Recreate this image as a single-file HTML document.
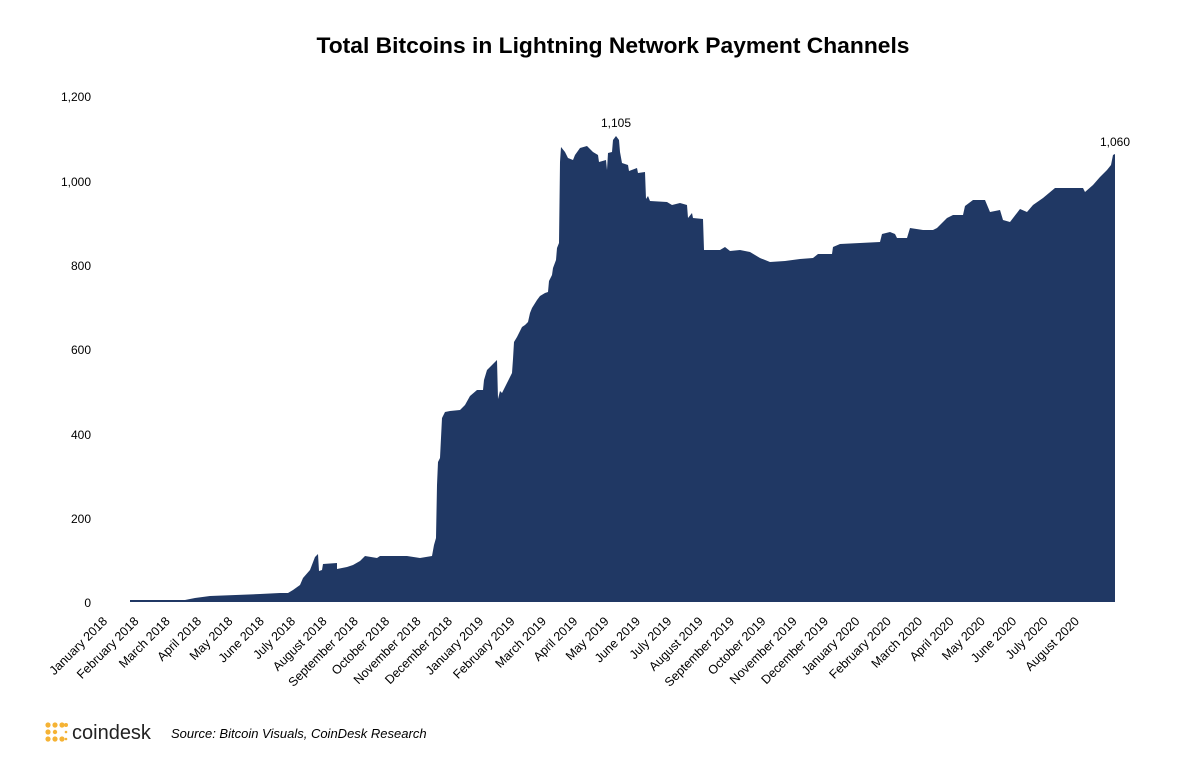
<!DOCTYPE html>
<html><head><meta charset="utf-8"><style>
html,body{margin:0;padding:0;background:#fff;}
body{width:1198px;height:778px;overflow:hidden;}
text{font-family:"Liberation Sans",sans-serif;}
</style></head><body>
<svg width="1198" height="778" viewBox="0 0 1198 778" xmlns="http://www.w3.org/2000/svg">
<text x="613" y="53" text-anchor="middle" font-size="22.5" font-weight="bold" fill="#000" textLength="593" lengthAdjust="spacingAndGlyphs">Total Bitcoins in Lightning Network Payment Channels</text>
<g font-size="12" fill="#000" text-anchor="end">
<text x="91" y="101">1,200</text>
<text x="91" y="186">1,000</text>
<text x="91" y="270">800</text>
<text x="91" y="354">600</text>
<text x="91" y="439">400</text>
<text x="91" y="523">200</text>
<text x="91" y="607">0</text>
</g>
<path fill="#203864" d="M130,602 L130,600 L185,600 L195,598 L210,596 L260,594 L280,593 L288,593 L293,590 L300,585 L303,578 L310,570 L315,557 L318,554 L319,571 L322,570 L323,564 L337,563 L337,569 L347,567 L353,565 L360,561 L365,556 L377,558 L380,556 L407,556 L420,558 L432,556 L434,545 L436,538 L437,485 L438,462 L440,458 L442,418 L445,412 L450,411 L460,410 L465,405 L470,396 L477,390 L483,390 L484,380 L487,370 L493,364 L497,360 L498,399 L500,391 L502,393 L512,373 L513,359 L514,342 L517,337 L522,327 L525,325 L528,322 L530,313 L532,308 L537,300 L540,296 L545,293 L548,292 L549,281 L552,275 L553,268 L556,260 L557,248 L559,243 L560,162 L561,147 L565,152 L568,158 L573,160 L575,155 L580,148 L587,146 L593,152 L598,155 L599,162 L606,160 L607,170 L608,153 L612,152 L613,140 L616,136 L619,140 L620,152 L622,163 L628,165 L629,171 L637,168 L638,173 L645,172 L646,199 L648,196 L650,201 L667,202 L672,205 L680,203 L687,205 L688,218 L692,213 L693,218 L703,219 L704,250 L720,250 L725,247 L730,251 L740,250 L750,252 L760,258 L770,262 L785,261 L800,259 L813,258 L818,254 L832,254 L833,247 L840,244 L880,242 L882,234 L890,232 L895,234 L897,238 L907,238 L910,228 L923,230 L933,230 L937,228 L947,218 L953,215 L963,215 L965,206 L973,200 L985,200 L990,212 L1000,210 L1003,220 L1010,222 L1020,209 L1027,212 L1033,205 L1043,198 L1055,188 L1083,188 L1085,192 L1093,185 L1100,177 L1107,170 L1111,165 L1113,155 L1115,154 L1115,602 Z"/>
<text x="616" y="127" text-anchor="middle" font-size="12" fill="#000">1,105</text>
<text x="1115" y="146" text-anchor="middle" font-size="12" fill="#000">1,060</text>
<g font-size="12.5" fill="#000" text-anchor="end">
<text transform="translate(108,622) rotate(-45)">January 2018</text>
<text transform="translate(139.4,622) rotate(-45)">February 2018</text>
<text transform="translate(170.7,622) rotate(-45)">March 2018</text>
<text transform="translate(202.1,622) rotate(-45)">April 2018</text>
<text transform="translate(233.4,622) rotate(-45)">May 2018</text>
<text transform="translate(264.8,622) rotate(-45)">June 2018</text>
<text transform="translate(296.1,622) rotate(-45)">July 2018</text>
<text transform="translate(327.5,622) rotate(-45)">August 2018</text>
<text transform="translate(358.8,622) rotate(-45)">September 2018</text>
<text transform="translate(390.2,622) rotate(-45)">October 2018</text>
<text transform="translate(421.5,622) rotate(-45)">November 2018</text>
<text transform="translate(452.9,622) rotate(-45)">December 2018</text>
<text transform="translate(484.2,622) rotate(-45)">January 2019</text>
<text transform="translate(515.6,622) rotate(-45)">February 2019</text>
<text transform="translate(546.9,622) rotate(-45)">March 2019</text>
<text transform="translate(578.3,622) rotate(-45)">April 2019</text>
<text transform="translate(609.6,622) rotate(-45)">May 2019</text>
<text transform="translate(641,622) rotate(-45)">June 2019</text>
<text transform="translate(672.3,622) rotate(-45)">July 2019</text>
<text transform="translate(703.7,622) rotate(-45)">August 2019</text>
<text transform="translate(735,622) rotate(-45)">September 2019</text>
<text transform="translate(766.4,622) rotate(-45)">October 2019</text>
<text transform="translate(797.7,622) rotate(-45)">November 2019</text>
<text transform="translate(829.1,622) rotate(-45)">December 2019</text>
<text transform="translate(860.4,622) rotate(-45)">January 2020</text>
<text transform="translate(891.8,622) rotate(-45)">February 2020</text>
<text transform="translate(923.1,622) rotate(-45)">March 2020</text>
<text transform="translate(954.5,622) rotate(-45)">April 2020</text>
<text transform="translate(985.8,622) rotate(-45)">May 2020</text>
<text transform="translate(1017.2,622) rotate(-45)">June 2020</text>
<text transform="translate(1048.5,622) rotate(-45)">July 2020</text>
<text transform="translate(1079.9,622) rotate(-45)">August 2020</text>
</g>
<g fill="#f5b335">
<circle cx="48" cy="725" r="2.6"/><circle cx="55" cy="725" r="2.6"/><circle cx="62" cy="725" r="2.6"/><circle cx="66" cy="725" r="2"/>
<circle cx="48" cy="732" r="2.6"/><circle cx="55" cy="732" r="2.2"/><circle cx="66" cy="732" r="1.3"/>
<circle cx="48" cy="739" r="2.6"/><circle cx="55" cy="739" r="2.6"/><circle cx="62" cy="739" r="2.6"/><circle cx="66" cy="739" r="1.3"/>
</g>
<text x="72" y="739" font-size="20" fill="#222">coindesk</text>
<text x="171" y="738" font-size="13" font-style="italic" fill="#000">Source: Bitcoin Visuals, CoinDesk Research</text>
</svg>
</body></html>
